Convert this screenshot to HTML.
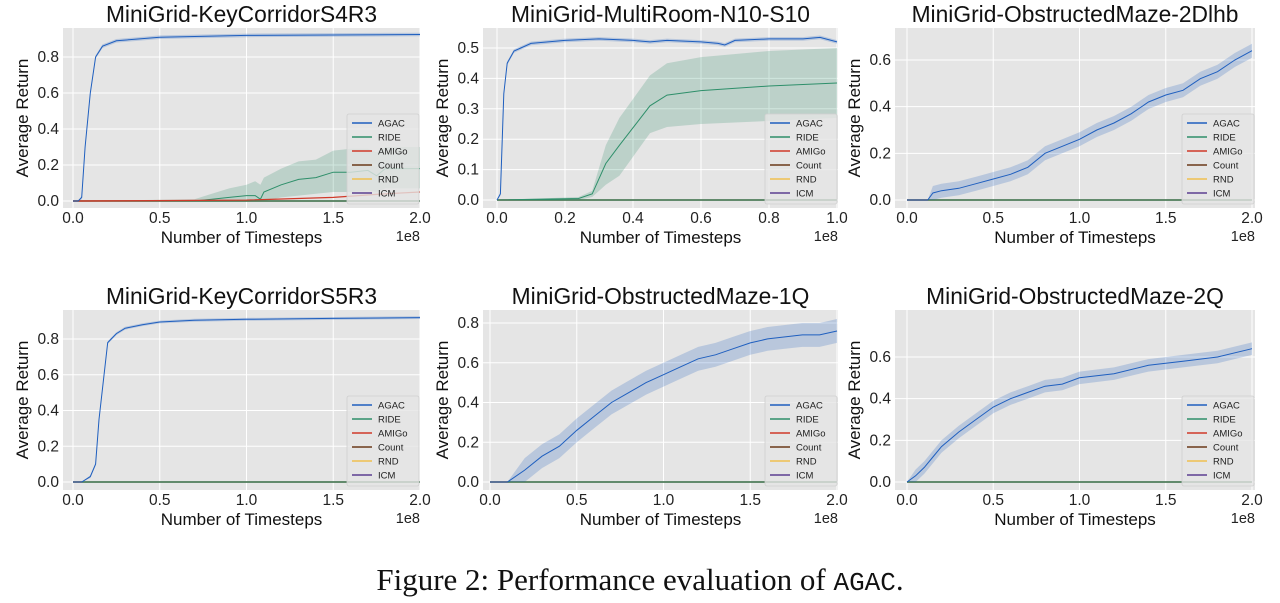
<!DOCTYPE html>
<html><head><meta charset="utf-8">
<style>
body{margin:0;background:#fff;}
svg{display:block;font-family:"Liberation Sans",sans-serif;}
</style></head>
<body>
<svg id="fig" width="1280" height="603" viewBox="0 0 1280 603" xmlns="http://www.w3.org/2000/svg">
<text x="640" y="590" text-anchor="middle" font-family="Liberation Serif, serif" font-size="31" fill="#111">Figure 2: Performance evaluation of <tspan font-family="Liberation Mono, monospace" font-size="26">AGAC</tspan>.</text>
</svg>
<script>
const legendNames = ["AGAC","RIDE","AMIGo","Count","RND","ICM"];
const legendColors = ["#1f5fbf","#2e8f6a","#d03a2a","#6b3a1a","#f0c050","#5d3f91"];
const titles = ["MiniGrid-KeyCorridorS4R3","MiniGrid-MultiRoom-N10-S10","MiniGrid-ObstructedMaze-2Dlhb","MiniGrid-KeyCorridorS5R3","MiniGrid-ObstructedMaze-1Q","MiniGrid-ObstructedMaze-2Q"];
const xMaxes = [2,1,2,2,2,2];
const yTickSets = [[0,0.2,0.4,0.6,0.8],[0,0.1,0.2,0.3,0.4,0.5],[0,0.2,0.4,0.6],[0,0.2,0.4,0.6,0.8],[0,0.2,0.4,0.6,0.8],[0,0.2,0.4,0.6]];
// Panel 1
const p1AgacX=[0,0.03,0.05,0.07,0.1,0.13,0.17,0.25,0.5,1.0,2.0];
const p1AgacY=[0,0,0.02,0.3,0.6,0.8,0.86,0.89,0.91,0.92,0.925];
const p1RideX=[0,0.7,0.8,0.9,1.0,1.05,1.08,1.1,1.2,1.3,1.4,1.5,1.6,1.7,1.75,1.8,2.0];
const p1RideY=[0,0,0.01,0.02,0.03,0.03,0.01,0.05,0.09,0.12,0.13,0.16,0.16,0.17,0.14,0.18,0.18];
const p1RideLo=[0,0,0,0,0,0,0,0,0.02,0.03,0.04,0.05,0.05,0.06,0.05,0.07,0.07];
const p1RideHi=[0,0.01,0.04,0.07,0.09,0.11,0.09,0.13,0.18,0.22,0.23,0.28,0.29,0.29,0.27,0.3,0.3];
const p1AmigoX=[0,1.0,1.5,1.8,2.0];
const p1AmigoY=[0,0.005,0.02,0.04,0.05];
// Panel 2
const p2AgacX=[0,0.01,0.02,0.03,0.05,0.07,0.1,0.15,0.2,0.3,0.4,0.45,0.5,0.6,0.65,0.67,0.7,0.8,0.9,0.95,1.0];
const p2AgacY=[0,0.02,0.35,0.45,0.49,0.5,0.515,0.52,0.525,0.53,0.525,0.52,0.525,0.52,0.515,0.51,0.525,0.53,0.53,0.535,0.52];
const p2RideX=[0,0.24,0.28,0.32,0.36,0.45,0.5,0.6,0.8,1.0];
const p2RideY=[0,0.005,0.02,0.12,0.18,0.31,0.345,0.36,0.375,0.385];
const p2RideLo=[0,0,0.01,0.05,0.08,0.22,0.24,0.25,0.26,0.27];
const p2RideHi=[0,0.01,0.03,0.18,0.27,0.41,0.45,0.47,0.49,0.5];
// Panel 3
const p3AgacX=[0,0.12,0.15,0.2,0.3,0.4,0.5,0.6,0.7,0.8,0.9,1.0,1.1,1.2,1.3,1.4,1.5,1.6,1.7,1.8,1.9,2.0];
const p3AgacY=[0,0,0.03,0.04,0.05,0.07,0.09,0.11,0.14,0.2,0.23,0.26,0.3,0.33,0.37,0.42,0.45,0.47,0.52,0.55,0.6,0.64];
const p3Band=0.03;
// Panel 4
const p4AgacX=[0,0.05,0.1,0.13,0.15,0.2,0.25,0.3,0.4,0.5,0.7,1.0,1.5,2.0];
const p4AgacY=[0,0,0.03,0.1,0.35,0.78,0.83,0.86,0.88,0.895,0.905,0.91,0.915,0.92];
// Panel 5
const p5AgacX=[0,0.1,0.2,0.3,0.4,0.5,0.6,0.7,0.8,0.9,1.0,1.1,1.2,1.3,1.4,1.5,1.6,1.7,1.8,1.9,2.0];
const p5AgacY=[0,0,0.06,0.13,0.18,0.26,0.33,0.4,0.45,0.5,0.54,0.58,0.62,0.64,0.67,0.7,0.72,0.73,0.74,0.74,0.76];
const p5Band=0.06;
// Panel 6
const p6AgacX=[0,0.05,0.1,0.15,0.2,0.3,0.4,0.5,0.6,0.7,0.8,0.9,1.0,1.2,1.4,1.6,1.8,2.0];
const p6AgacY=[0,0.03,0.07,0.12,0.17,0.24,0.3,0.36,0.4,0.43,0.46,0.47,0.5,0.52,0.56,0.58,0.6,0.64];
const p6Band=0.03;

const NS="http://www.w3.org/2000/svg";
const svg=document.getElementById('fig');
function mk(tag,attrs,parent){const e=document.createElementNS(NS,tag);for(const k in attrs)e.setAttribute(k,attrs[k]);(parent||svg).appendChild(e);return e;}

const geo=[
 {L:63,R:420,T:28,B:208,x0:73,x1:420,y0:201,yr:0.8,y1:57},
 {L:483,R:838,T:28,B:208,x0:497,x1:837,y0:200,yr:0.5,y1:48},
 {L:895,R:1255,T:28,B:208,x0:907,x1:1252,y0:200,yr:0.6,y1:60},
 {L:63,R:420,T:310,B:490,x0:73,x1:420,y0:482,yr:0.8,y1:339},
 {L:483,R:838,T:310,B:490,x0:490,x1:837,y0:482,yr:0.8,y1:323},
 {L:895,R:1255,T:310,B:490,x0:907,x1:1252,y0:482,yr:0.6,y1:357}
];

function pathOf(xs,ys,sx,sy){return xs.map((x,i)=>(i?'L':'M')+sx(x).toFixed(1)+','+sy(ys[i]).toFixed(1)).join('');}
function bandOf(xs,lo,hi,sx,sy){let d=xs.map((x,i)=>(i?'L':'M')+sx(x).toFixed(1)+','+sy(hi[i]).toFixed(1)).join('');for(let i=xs.length-1;i>=0;i--)d+='L'+sx(xs[i]).toFixed(1)+','+sy(lo[i]).toFixed(1);return d+'Z';}

const series=[
 {agac:[p1AgacX,p1AgacY],ride:[p1RideX,p1RideY,p1RideLo,p1RideHi],amigo:[p1AmigoX,p1AmigoY],band:0.01},
 {agac:[p2AgacX,p2AgacY],ride:[p2RideX,p2RideY,p2RideLo,p2RideHi],band:0.006},
 {agac:[p3AgacX,p3AgacY],band:p3Band},
 {agac:[p4AgacX,p4AgacY],band:0.008},
 {agac:[p5AgacX,p5AgacY],band:p5Band},
 {agac:[p6AgacX,p6AgacY],band:p6Band}
];

geo.forEach((g,pi)=>{
 const grp=mk('g',{});
 
 
 const xm=xMaxes[pi];
 const sx=v=>g.x0+(g.x1-g.x0)*v/xm;
 const sy=v=>g.y0-(g.y0-g.y1)*v/g.yr;
 const bg=mk('rect',{x:g.L,y:g.T,width:g.R-g.L,height:g.B-g.T,fill:'#e5e5e5'},grp);
 
 
 const xt=[];for(let i=0;i<=(xm===1?5:4);i++)xt.push(xm===1?i*0.2:i*0.5);
 xt.forEach(v=>{
  const gl=mk('line',{x1:sx(v),x2:sx(v),y1:g.T,y2:g.B,stroke:'#fff','stroke-width':1},grp);
  
  
  const t=mk('text',{x:sx(v),y:g.B+15,'text-anchor':'middle','font-size':15.5,fill:'#222'},grp);
  t.textContent=v.toFixed(1);
  
  
 });
 yTickSets[pi].forEach(v=>{
  const gl=mk('line',{x1:g.L,x2:g.R,y1:sy(v),y2:sy(v),stroke:'#fff','stroke-width':1},grp);
  
  
  const t=mk('text',{x:g.L-4,y:sy(v)+5,'text-anchor':'end','font-size':15.5,fill:'#222'},grp);
  t.textContent=v.toFixed(1);
  
  
 });
 const s=series[pi];
 [5,4,3,2,1].forEach(ci=>{
  const l=mk('line',{x1:sx(0),x2:sx(xm),y1:sy(0),y2:sy(0),stroke:legendColors[ci],'stroke-width':1.2},grp);
  
  
 });
 if(s.ride){
  const b=mk('path',{d:bandOf(s.ride[0],s.ride[2],s.ride[3],sx,sy),fill:'#2e8f6a','fill-opacity':0.22},grp);
  
  
  const l=mk('path',{d:pathOf(s.ride[0],s.ride[1],sx,sy),fill:'none',stroke:'#2e8f6a','stroke-width':1},grp);
  
  
 }
 if(s.amigo){
  const l=mk('path',{d:pathOf(s.amigo[0],s.amigo[1],sx,sy),fill:'none',stroke:'#d03a2a','stroke-width':1.2},grp);
  
  
 }
 const ax=s.agac[0],ay=s.agac[1];
 const lo=ay.map(v=>Math.max(0,v-s.band)),hi=ay.map(v=>v>0?v+s.band:0);
 const b=mk('path',{d:bandOf(ax,lo,hi,sx,sy),fill:'#1f5fbf','fill-opacity':0.22},grp);
 
 
 const l=mk('path',{d:pathOf(ax,ay,sx,sy),fill:'none',stroke:'#1f5fbf','stroke-width':1},grp);
 
 
 const cx=(g.L+g.R)/2;
 const tt=mk('text',{x:cx,y:g.T-6,'text-anchor':'middle','font-size':22.8,fill:'#111'},grp);
 tt.textContent=titles[pi];
 
 
 const xl=mk('text',{x:cx,y:g.B+35,'text-anchor':'middle','font-size':17,fill:'#111'},grp);
 xl.textContent='Number of Timesteps';
 
 
 const ex=mk('text',{x:g.R,y:g.B+33,'text-anchor':'end','font-size':14.5,fill:'#222'},grp);
 ex.textContent='1e8';
 
 
 const yx=g.L-35,yy=(g.T+g.B)/2;
 const yl=mk('text',{x:yx,y:yy,'text-anchor':'middle','font-size':17,fill:'#111',transform:'rotate(-90 '+yx+' '+yy+')'},grp);
 yl.textContent='Average Return';
 
 
 const lw=72,lh=90,lx=g.R-lw-1,ly=g.B-lh-4;
 const lg=mk('g',{},grp);
 
 
 mk('rect',{x:lx,y:ly,width:lw,height:lh,fill:'#e5e5e5','fill-opacity':0.8,stroke:'#cfcfcf','stroke-width':0.8,rx:2},lg);
 legendNames.forEach((n,i)=>{
  const yy2=ly+9+i*14;
  const sw=mk('line',{x1:lx+5,x2:lx+25,y1:yy2,y2:yy2,stroke:legendColors[i],'stroke-width':1.4},lg);
  
  
  const t=mk('text',{x:lx+31,y:yy2+3.5,'font-size':9.5,fill:'#222'},lg);
  t.textContent=n;
  
  
 });
});
</script>
</body></html>
